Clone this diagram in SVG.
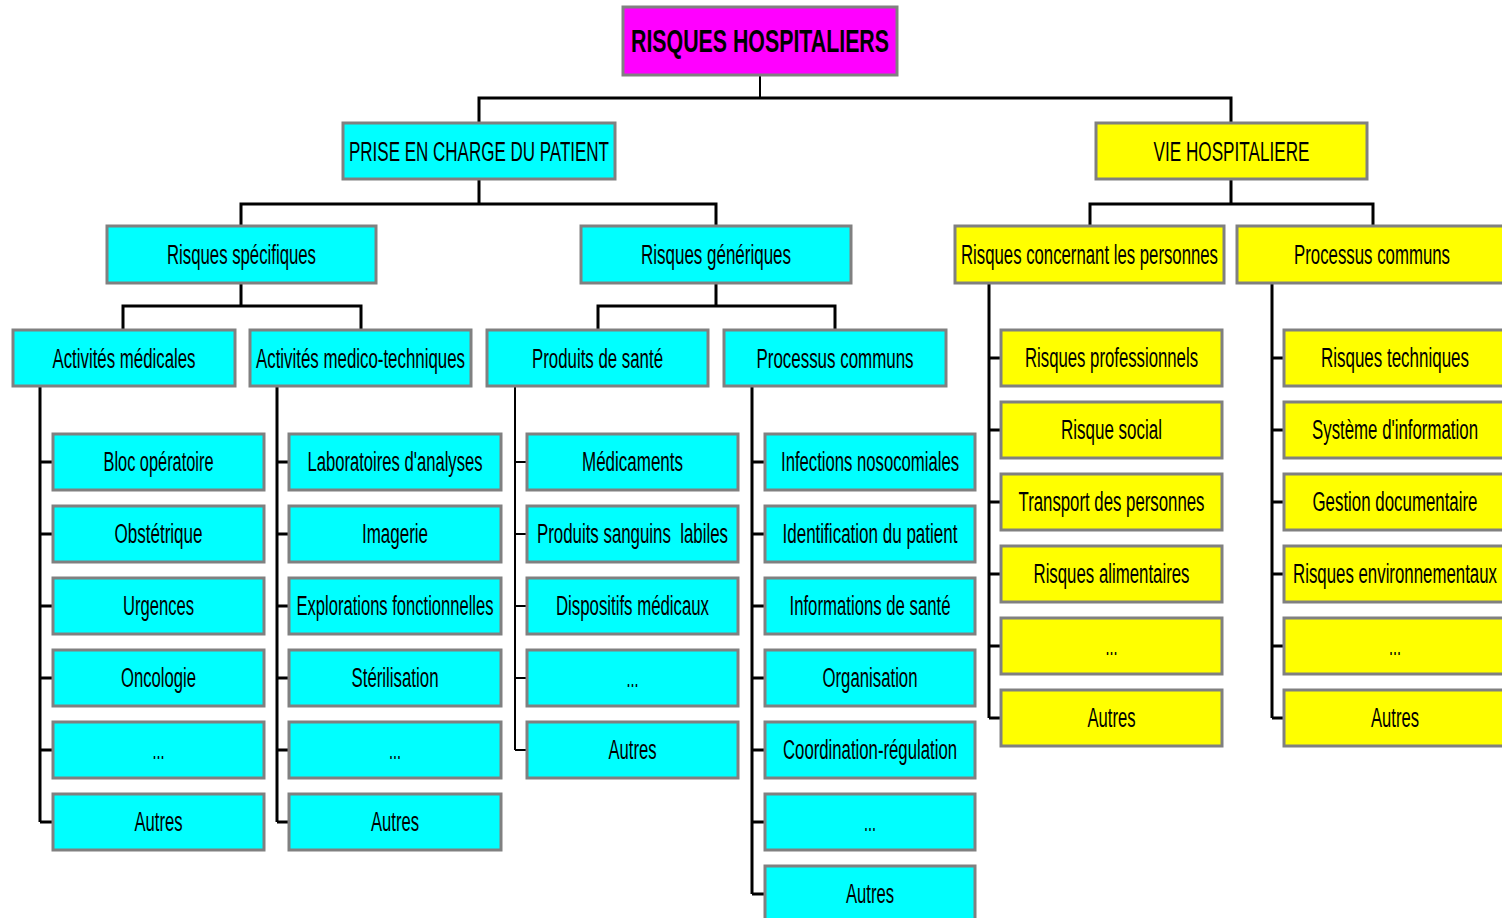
<svg xmlns="http://www.w3.org/2000/svg" width="1502" height="918" viewBox="0 0 1502 918">
<style>
rect{stroke:#808080;stroke-width:3}
.m{fill:#ff00ff}.c{fill:#00ffff}.y{fill:#ffff00}
text{font-family:"Liberation Sans",Arial,sans-serif;font-size:27px;fill:#000;text-anchor:middle}
.b{font-weight:bold;font-size:31px}
.ln{fill:none;stroke:#000;stroke-width:3}
.thin{stroke-width:2}
</style>
<rect width="1502" height="918" fill="#fff" style="stroke:none"/>
<g id="connectors">
<path class="ln thin" d="M760 76V98"/>
<path class="ln" d="M479 124V98H1231V124"/>
<path class="ln" d="M479 179V204 M241 226V204H716V226"/>
<path class="ln" d="M1231 179V204 M1090 226V204H1373V226"/>
<path class="ln" d="M241 283V306 M123 330V306H361V330"/>
<path class="ln" d="M716 283V306 M598 330V306H835V330"/>
<path class="ln" d="M40 386V822 M40 462H53 M40 534H53 M40 606H53 M40 678H53 M40 750H53 M40 822H53"/>
<path class="ln" d="M277 386V822 M277 462H289 M277 534H289 M277 606H289 M277 678H289 M277 750H289 M277 822H289"/>
<path class="ln thin" d="M515 386V750 M515 462H527 M515 534H527 M515 606H527 M515 678H527 M515 750H527"/>
<path class="ln" d="M752 386V894 M752 462H765 M752 534H765 M752 606H765 M752 678H765 M752 750H765 M752 822H765 M752 894H765"/>
<path class="ln" d="M989 283V718 M989 358H1001 M989 430H1001 M989 502H1001 M989 574H1001 M989 646H1001 M989 718H1001"/>
<path class="ln" d="M1272 283V718 M1272 358H1284 M1272 430H1284 M1272 502H1284 M1272 574H1284 M1272 646H1284 M1272 718H1284"/>
</g>
<g id="root"><rect class="m" x="623" y="7" width="274" height="68"/><text class="b" x="760" y="52" textLength="258" lengthAdjust="spacingAndGlyphs">RISQUES HOSPITALIERS</text></g>
<g id="pec"><rect class="c" x="343" y="123" width="272" height="56"/><text x="479" y="161" textLength="260" lengthAdjust="spacingAndGlyphs">PRISE EN CHARGE DU PATIENT</text></g>
<g id="vie"><rect class="y" x="1096" y="123" width="271" height="56"/><text x="1231.5" y="161" textLength="156" lengthAdjust="spacingAndGlyphs">VIE HOSPITALIERE</text></g>
<g id="spec"><rect class="c" x="107" y="226" width="269" height="57"/><text x="241.5" y="264" textLength="149" lengthAdjust="spacingAndGlyphs">Risques spécifiques</text></g>
<g id="gen"><rect class="c" x="581" y="226" width="270" height="57"/><text x="716" y="264" textLength="150" lengthAdjust="spacingAndGlyphs">Risques génériques</text></g>
<g id="pers"><rect class="y" x="955" y="226" width="269" height="57"/><text x="1089.5" y="264" textLength="257" lengthAdjust="spacingAndGlyphs">Risques concernant les personnes</text></g>
<g id="proc2"><rect class="y" x="1237" y="226" width="270" height="57"/><text x="1372" y="264" textLength="156" lengthAdjust="spacingAndGlyphs">Processus communs</text></g>
<g id="actmed"><rect class="c" x="13" y="330" width="222" height="56"/><text x="124" y="368" textLength="143" lengthAdjust="spacingAndGlyphs">Activités médicales</text></g>
<g id="acttech"><rect class="c" x="250" y="330" width="221" height="56"/><text x="360.5" y="368" textLength="209" lengthAdjust="spacingAndGlyphs">Activités medico-techniques</text></g>
<g id="prod"><rect class="c" x="487" y="330" width="221" height="56"/><text x="597.5" y="368" textLength="131" lengthAdjust="spacingAndGlyphs">Produits de santé</text></g>
<g id="proc1"><rect class="c" x="724" y="330" width="222" height="56"/><text x="835" y="368" textLength="157" lengthAdjust="spacingAndGlyphs">Processus communs</text></g>
<g id="c1a"><rect class="c" x="53" y="434" width="211" height="56"/><text x="158.5" y="471" textLength="110" lengthAdjust="spacingAndGlyphs">Bloc opératoire</text></g>
<g id="c1b"><rect class="c" x="53" y="506" width="211" height="56"/><text x="158.5" y="543" textLength="88" lengthAdjust="spacingAndGlyphs">Obstétrique</text></g>
<g id="c1c"><rect class="c" x="53" y="578" width="211" height="56"/><text x="158.5" y="615" textLength="71" lengthAdjust="spacingAndGlyphs">Urgences</text></g>
<g id="c1d"><rect class="c" x="53" y="650" width="211" height="56"/><text x="158.5" y="687" textLength="75" lengthAdjust="spacingAndGlyphs">Oncologie</text></g>
<g id="c1e"><rect class="c" x="53" y="722" width="211" height="56"/><text x="158.5" y="759" textLength="12" lengthAdjust="spacingAndGlyphs">...</text></g>
<g id="c1f"><rect class="c" x="53" y="794" width="211" height="56"/><text x="158.5" y="831" textLength="48" lengthAdjust="spacingAndGlyphs">Autres</text></g>
<g id="c2a"><rect class="c" x="289" y="434" width="212" height="56"/><text x="395" y="471" textLength="175" lengthAdjust="spacingAndGlyphs">Laboratoires d'analyses</text></g>
<g id="c2b"><rect class="c" x="289" y="506" width="212" height="56"/><text x="395" y="543" textLength="66" lengthAdjust="spacingAndGlyphs">Imagerie</text></g>
<g id="c2c"><rect class="c" x="289" y="578" width="212" height="56"/><text x="395" y="615" textLength="197" lengthAdjust="spacingAndGlyphs">Explorations fonctionnelles</text></g>
<g id="c2d"><rect class="c" x="289" y="650" width="212" height="56"/><text x="395" y="687" textLength="87" lengthAdjust="spacingAndGlyphs">Stérilisation</text></g>
<g id="c2e"><rect class="c" x="289" y="722" width="212" height="56"/><text x="395" y="759" textLength="12" lengthAdjust="spacingAndGlyphs">...</text></g>
<g id="c2f"><rect class="c" x="289" y="794" width="212" height="56"/><text x="395" y="831" textLength="48" lengthAdjust="spacingAndGlyphs">Autres</text></g>
<g id="c3a"><rect class="c" x="527" y="434" width="211" height="56"/><text x="632.5" y="471" textLength="101" lengthAdjust="spacingAndGlyphs">Médicaments</text></g>
<g id="c3b"><rect class="c" x="527" y="506" width="211" height="56"/><text x="632.5" y="543" textLength="191" lengthAdjust="spacingAndGlyphs" xml:space="preserve">Produits sanguins  labiles</text></g>
<g id="c3c"><rect class="c" x="527" y="578" width="211" height="56"/><text x="632.5" y="615" textLength="153" lengthAdjust="spacingAndGlyphs">Dispositifs médicaux</text></g>
<g id="c3d"><rect class="c" x="527" y="650" width="211" height="56"/><text x="632.5" y="687" textLength="12" lengthAdjust="spacingAndGlyphs">...</text></g>
<g id="c3e"><rect class="c" x="527" y="722" width="211" height="56"/><text x="632.5" y="759" textLength="48" lengthAdjust="spacingAndGlyphs">Autres</text></g>
<g id="c4a"><rect class="c" x="765" y="434" width="210" height="56"/><text x="870" y="471" textLength="178" lengthAdjust="spacingAndGlyphs">Infections nosocomiales</text></g>
<g id="c4b"><rect class="c" x="765" y="506" width="210" height="56"/><text x="870" y="543" textLength="175" lengthAdjust="spacingAndGlyphs">Identification du patient</text></g>
<g id="c4c"><rect class="c" x="765" y="578" width="210" height="56"/><text x="870" y="615" textLength="161" lengthAdjust="spacingAndGlyphs">Informations de santé</text></g>
<g id="c4d"><rect class="c" x="765" y="650" width="210" height="56"/><text x="870" y="687" textLength="95" lengthAdjust="spacingAndGlyphs">Organisation</text></g>
<g id="c4e"><rect class="c" x="765" y="722" width="210" height="56"/><text x="870" y="759" textLength="174" lengthAdjust="spacingAndGlyphs">Coordination-régulation</text></g>
<g id="c4f"><rect class="c" x="765" y="794" width="210" height="56"/><text x="870" y="831" textLength="12" lengthAdjust="spacingAndGlyphs">...</text></g>
<g id="c4g"><rect class="c" x="765" y="866" width="210" height="56"/><text x="870" y="903" textLength="48" lengthAdjust="spacingAndGlyphs">Autres</text></g>
<g id="c5a"><rect class="y" x="1001" y="330" width="221" height="56"/><text x="1111.5" y="367" textLength="173" lengthAdjust="spacingAndGlyphs">Risques professionnels</text></g>
<g id="c5b"><rect class="y" x="1001" y="402" width="221" height="56"/><text x="1111.5" y="439" textLength="101" lengthAdjust="spacingAndGlyphs">Risque social</text></g>
<g id="c5c"><rect class="y" x="1001" y="474" width="221" height="56"/><text x="1111.5" y="511" textLength="186" lengthAdjust="spacingAndGlyphs">Transport des personnes</text></g>
<g id="c5d"><rect class="y" x="1001" y="546" width="221" height="56"/><text x="1111.5" y="583" textLength="156" lengthAdjust="spacingAndGlyphs">Risques alimentaires</text></g>
<g id="c5e"><rect class="y" x="1001" y="618" width="221" height="56"/><text x="1111.5" y="655" textLength="12" lengthAdjust="spacingAndGlyphs">...</text></g>
<g id="c5f"><rect class="y" x="1001" y="690" width="221" height="56"/><text x="1111.5" y="727" textLength="48" lengthAdjust="spacingAndGlyphs">Autres</text></g>
<g id="c6a"><rect class="y" x="1284" y="330" width="222" height="56"/><text x="1395" y="367" textLength="148" lengthAdjust="spacingAndGlyphs">Risques techniques</text></g>
<g id="c6b"><rect class="y" x="1284" y="402" width="222" height="56"/><text x="1395" y="439" textLength="166" lengthAdjust="spacingAndGlyphs">Système d'information</text></g>
<g id="c6c"><rect class="y" x="1284" y="474" width="222" height="56"/><text x="1395" y="511" textLength="165" lengthAdjust="spacingAndGlyphs">Gestion documentaire</text></g>
<g id="c6d"><rect class="y" x="1284" y="546" width="222" height="56"/><text x="1395" y="583" textLength="204" lengthAdjust="spacingAndGlyphs">Risques environnementaux</text></g>
<g id="c6e"><rect class="y" x="1284" y="618" width="222" height="56"/><text x="1395" y="655" textLength="12" lengthAdjust="spacingAndGlyphs">...</text></g>
<g id="c6f"><rect class="y" x="1284" y="690" width="222" height="56"/><text x="1395" y="727" textLength="48" lengthAdjust="spacingAndGlyphs">Autres</text></g>
</svg>
